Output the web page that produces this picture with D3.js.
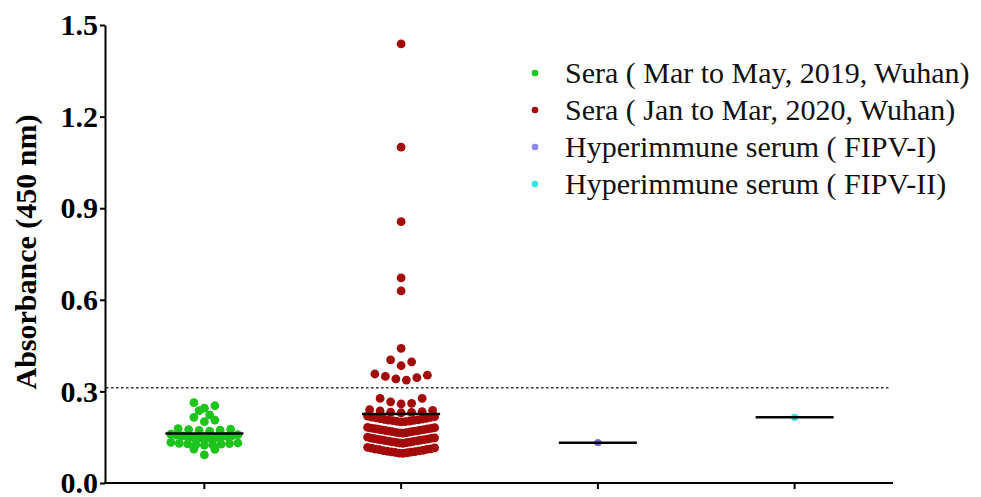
<!DOCTYPE html>
<html>
<head>
<meta charset="utf-8">
<script src="https://cdn.jsdelivr.net/npm/d3@7"></script>
<style>
  html, body { margin: 0; padding: 0; background: #fff; }
  svg { display: block; }
</style>
</head>
<body>
<svg id="chart" width="981" height="497"></svg>
<script>
// ---------------- data ----------------
const categories = [
  "Sera ( Mar to May, 2019, Wuhan)",
  "Sera ( Jan to Mar, 2020, Wuhan)",
  "Hyperimmune serum ( FIPV-I)",
  "Hyperimmune serum ( FIPV-II)"
];
const sera2019 = [
  0.092, 0.110, 0.111,
  0.124, 0.125, 0.126, 0.127, 0.128, 0.129, 0.130, 0.131, 0.133,
  0.145, 0.146, 0.147, 0.148, 0.149, 0.150, 0.151, 0.153, 0.154, 0.155, 0.157, 0.158, 0.160,
  0.170, 0.172, 0.173, 0.175, 0.176, 0.178,
  0.201, 0.206, 0.215, 0.223, 0.237, 0.245, 0.253, 0.263
];
const sera2020 = [
  0.097, 0.098, 0.099, 0.100, 0.101, 0.102, 0.103, 0.104, 0.105, 0.106, 0.107, 0.109, 0.110, 0.111, 0.112, 0.114, 0.115, 0.117,
  0.130, 0.131, 0.132, 0.133, 0.134, 0.135, 0.136, 0.137, 0.138, 0.139, 0.140, 0.141, 0.142, 0.143, 0.144, 0.145, 0.146, 0.147, 0.148, 0.150,
  0.163, 0.164, 0.165, 0.166, 0.167, 0.168, 0.169, 0.170, 0.171, 0.172, 0.173, 0.174, 0.175, 0.176, 0.177, 0.178, 0.179, 0.180, 0.181, 0.182,
  0.200, 0.201, 0.202, 0.203, 0.204, 0.205, 0.206, 0.207, 0.208, 0.209, 0.211, 0.212, 0.213, 0.215, 0.216, 0.217, 0.219,
  0.230, 0.231, 0.232, 0.234, 0.236, 0.238, 0.240,
  0.259, 0.261, 0.266, 0.277, 0.277,
  0.337, 0.341, 0.345, 0.349, 0.353, 0.357,
  0.384, 0.397, 0.403,
  0.441, 0.629, 0.672, 0.856, 1.100, 1.438
];
const fipv1 = [0.132];
const fipv2 = [0.215];
const cutoff = 0.312;
const yTicks = [0, 0.3, 0.6, 0.9, 1.2, 1.5];
const seriesValues = [sera2019, sera2020, fipv1, fipv2];

// ---------------- styles ----------------
const pointColors = ["#1cc41c", "#a30a0a", "#6f6fd6", "#35e0e0"];
const legendColors = ["#1cc41c", "#a30a0a", "#8a8ae6", "#35e8e8"];

const svg = d3.select("#chart");
svg.append("rect").attr("width", 981).attr("height", 497).attr("fill", "#fff");

const y = d3.scaleLinear().domain([0, 1.5]).range([483, 25]);
const x = d3.scaleBand().domain(categories).range([106, 893]).padding(0);
const cx = c => x(c) + x.bandwidth() / 2;

// cutoff dotted line
svg.append("line")
  .attr("x1", 106).attr("x2", 891)
  .attr("y1", y(cutoff)).attr("y2", y(cutoff))
  .attr("stroke", "#333").attr("stroke-width", 1.3)
  .attr("stroke-dasharray", "2.5,2.5");

// ---------------- swarm layout ----------------
const BW = 0.02, SPAN = 67, MAXSP = 10.5;
function swarm(values, center) {
  const sorted = values.slice().sort((a, b) => a - b);
  const rows = [];
  let cur = null;
  sorted.forEach(v => {
    if (!cur || v - cur.start > BW + 1e-9) { cur = { start: v, vals: [] }; rows.push(cur); }
    cur.vals.push(v);
  });
  const pts = [];
  rows.forEach(r => {
    const n = r.vals.length;
    const sp = n > 1 ? Math.min(MAXSP, SPAN / (n - 1)) : 0;
    r.vals.forEach((v, i) => {
      let slot;
      if (n % 2 === 1) slot = i === 0 ? 0 : (i % 2 === 1 ? (i + 1) / 2 : -i / 2);
      else slot = i % 2 === 0 ? (i / 2 + 0.5) : -((i - 1) / 2 + 0.5);
      pts.push({ v, x: center + slot * sp });
    });
  });
  return pts;
}

seriesValues.forEach((vals, k) => {
  const c = categories[k];
  const pts = swarm(vals, cx(c));
  const r = vals.length > 1 ? 4.4 : 3.6;
  svg.append("g").selectAll("circle").data(pts).join("circle")
    .attr("cx", d => d.x).attr("cy", d => y(d.v)).attr("r", r)
    .attr("fill", pointColors[k]);
  const m = d3.mean(vals);
  svg.append("line")
    .attr("x1", cx(c) - 39).attr("x2", cx(c) + 39)
    .attr("y1", y(m)).attr("y2", y(m))
    .attr("stroke", "#000").attr("stroke-width", 2.5);
});

// ---------------- axes ----------------
const yAxis = svg.append("g").attr("transform", "translate(105,0)")
  .call(d3.axisLeft(y).tickValues(yTicks).tickFormat(d3.format(".1f")).tickSize(5).tickSizeOuter(0));
yAxis.select(".domain").attr("stroke-width", 2);
yAxis.selectAll(".tick line").attr("stroke-width", 2);
yAxis.selectAll(".tick text")
  .attr("x", -7)
  .attr("font-family", "Liberation Serif, Times New Roman, serif")
  .attr("font-weight", "bold").attr("font-size", 30).attr("fill", "#000");

const xAxis = svg.append("g").attr("transform", `translate(0,${y(0)})`)
  .call(d3.axisBottom(x).tickSize(6).tickFormat(""));
xAxis.select(".domain").remove();
xAxis.selectAll(".tick line").attr("stroke-width", 2);
svg.append("line").attr("x1", 104).attr("x2", 893)
  .attr("y1", y(0)).attr("y2", y(0)).attr("stroke", "#000").attr("stroke-width", 2);

svg.append("text")
  .attr("transform", "translate(36,252) rotate(-90)")
  .attr("text-anchor", "middle")
  .attr("font-family", "Liberation Serif, Times New Roman, serif")
  .attr("font-weight", "bold").attr("font-size", 30)
  .text("Absorbance (450 nm)");

// ---------------- legend ----------------
const legendY = [73, 110, 147, 184];
const lg = svg.append("g");
categories.forEach((c, i) => {
  lg.append("circle").attr("cx", 535).attr("cy", legendY[i]).attr("r", 3.3).attr("fill", legendColors[i]);
  lg.append("text").attr("x", 565).attr("y", legendY[i] + 10)
    .attr("font-family", "Liberation Serif, Times New Roman, serif")
    .attr("font-size", 30).attr("fill", "#111")
    .text(c);
});
</script>
</body>
</html>
